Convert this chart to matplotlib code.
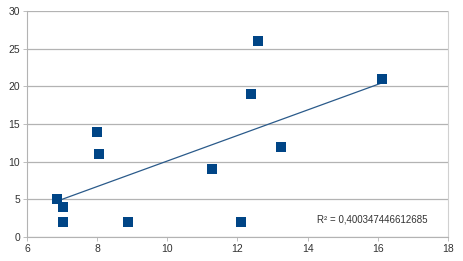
import matplotlib
matplotlib.use("Agg")
import matplotlib.pyplot as plt
import numpy as np

plt.rcParams['font.family'] = ['Liberation Sans', 'DejaVu Sans']

# data
x_vals = [6.85, 7.03, 7.03, 7.99, 8.05, 8.88, 11.27, 12.1, 12.38, 12.58, 13.24, 16.11]
y_vals = [5, 4, 2, 14, 11, 2, 9, 2, 19, 26, 12, 21]
r2_label = "R\u00b2 = 0,400347446612685"

x = np.array(x_vals)
y = np.array(y_vals)

fig = plt.figure(figsize=(4.63, 2.61), dpi=100)
ax = fig.add_axes([27/463, 1 - 237/261, 421/463, 226/261])

# trendline
m, b = np.polyfit(x, y, 1)
xt = np.array([x.min(), x.max()])
ax.plot(xt, m * xt + b, color='#2a5a8a', linewidth=0.9, zorder=2)

ax.scatter(x, y, marker='s', s=48, color='#004586', zorder=3, linewidths=0)

ax.set_xlim(6, 18)
ax.set_ylim(0, 30)
ax.set_xticks(range(6, 19, 2))
ax.set_yticks(range(0, 31, 5))
ax.yaxis.grid(True, color='#b3b3b3', linewidth=0.9)
ax.set_axisbelow(True)

for s in ['top']:
    ax.spines[s].set_visible(False)
ax.spines['right'].set_color('#d0d0d0')
ax.spines['left'].set_color('#b3b3b3')
ax.spines['bottom'].set_color('#b3b3b3')
ax.tick_params(axis='both', labelsize=7.5, colors='#333333', length=3, width=0.6,
               color='#b3b3b3', pad=2)

ax.text(15.83, 2.3, r2_label, fontsize=7, color='#333333', ha='center', va='center')

fig.savefig('out.png', dpi=100)
